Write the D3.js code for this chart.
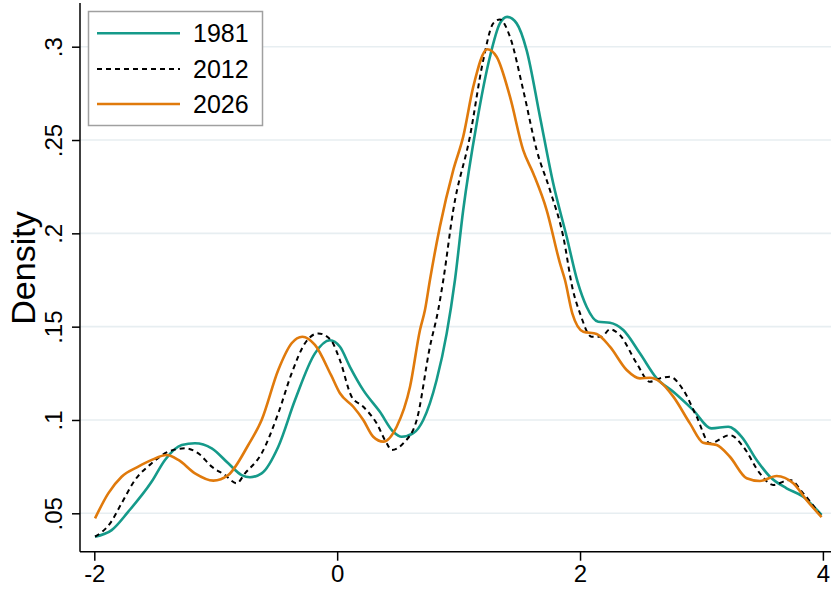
<!DOCTYPE html>
<html>
<head>
<meta charset="utf-8">
<script src="https://cdn.jsdelivr.net/npm/d3@7/dist/d3.min.js"></script>
<style>
  html, body { margin: 0; padding: 0; background: #fff; }
  svg { display: block; font-family: "Liberation Sans", Arial, sans-serif; }
</style>
</head>
<body>
<svg id="chart" width="831" height="590"></svg>
<script>
// Kernel density estimates by year
const years = ["1981", "2012", "2026"];
const colors = ["#159a8a", "#000000", "#e07a0c"];

const x1981 = [-1.994, -1.857, -1.72, -1.527, -1.418, -1.28, -1.171, -1.033, -0.897, -0.787, -0.718, -0.622, -0.485, -0.347, -0.183, -0.059, 0.023, 0.105, 0.215, 0.352, 0.462, 0.531, 0.627, 0.709, 0.819, 0.902, 0.97, 1.038, 1.149, 1.258, 1.34, 1.4, 1.478, 1.56, 1.67, 1.779, 1.89, 1.98, 2.054, 2.15, 2.246, 2.356, 2.493, 2.631, 2.768, 2.932, 3.083, 3.22, 3.331, 3.454, 3.564, 3.701, 3.838, 3.989];
const d1981 = [0.0375, 0.041, 0.0509, 0.067, 0.0786, 0.0866, 0.0875, 0.0848, 0.0768, 0.0705, 0.0693, 0.0714, 0.0857, 0.1107, 0.1357, 0.1427, 0.1392, 0.1285, 0.116, 0.1044, 0.0937, 0.091, 0.0929, 0.1, 0.1214, 0.1464, 0.175, 0.2125, 0.2589, 0.2946, 0.3125, 0.316, 0.3125, 0.2982, 0.2625, 0.2268, 0.1982, 0.174, 0.1607, 0.1526, 0.1521, 0.1482, 0.1357, 0.1223, 0.1151, 0.1053, 0.0955, 0.0964, 0.091, 0.0786, 0.0696, 0.0634, 0.0589, 0.0491];

const x2012 = [-1.994, -1.87, -1.775, -1.665, -1.527, -1.39, -1.253, -1.143, -1.033, -0.924, -0.828, -0.759, -0.622, -0.485, -0.375, -0.265, -0.156, -0.052, 0.023, 0.119, 0.215, 0.325, 0.408, 0.449, 0.544, 0.655, 0.764, 0.832, 0.874, 0.956, 1.093, 1.203, 1.285, 1.34, 1.423, 1.532, 1.643, 1.752, 1.862, 1.94, 2.0, 2.095, 2.178, 2.246, 2.328, 2.466, 2.575, 2.658, 2.74, 2.85, 2.96, 3.07, 3.234, 3.344, 3.481, 3.59, 3.728, 3.838, 3.989];
const d2012 = [0.0375, 0.0446, 0.0554, 0.0678, 0.0768, 0.083, 0.0848, 0.0821, 0.075, 0.0705, 0.0661, 0.0714, 0.0821, 0.1036, 0.125, 0.1411, 0.1464, 0.1428, 0.132, 0.1125, 0.1071, 0.0982, 0.0875, 0.0839, 0.0875, 0.1, 0.1393, 0.1589, 0.175, 0.2125, 0.2518, 0.2928, 0.3125, 0.3146, 0.3053, 0.2768, 0.2446, 0.2232, 0.1982, 0.17, 0.1571, 0.1446, 0.1446, 0.1486, 0.1455, 0.1304, 0.1205, 0.1223, 0.1232, 0.1161, 0.1018, 0.0875, 0.0919, 0.0857, 0.0714, 0.0652, 0.0679, 0.0607, 0.0482];

const x2026 = [-1.994, -1.885, -1.775, -1.638, -1.527, -1.404, -1.308, -1.171, -1.02, -0.897, -0.732, -0.622, -0.485, -0.375, -0.287, -0.183, -0.05, 0.023, 0.133, 0.215, 0.297, 0.38, 0.49, 0.6, 0.682, 0.723, 0.764, 0.846, 0.956, 1.038, 1.121, 1.236, 1.313, 1.423, 1.532, 1.615, 1.725, 1.835, 1.876, 1.937, 2.027, 2.137, 2.246, 2.384, 2.493, 2.575, 2.658, 2.768, 2.905, 3.014, 3.125, 3.234, 3.372, 3.481, 3.619, 3.756, 3.866, 3.989];
const d2026 = [0.0473, 0.0607, 0.0696, 0.075, 0.0786, 0.0812, 0.0786, 0.0714, 0.0675, 0.0705, 0.0866, 0.1, 0.1268, 0.1411, 0.1446, 0.1402, 0.124, 0.1143, 0.1071, 0.1, 0.091, 0.0884, 0.0964, 0.1178, 0.1482, 0.1589, 0.175, 0.2036, 0.2339, 0.2518, 0.2786, 0.2986, 0.2946, 0.2732, 0.2446, 0.2321, 0.2125, 0.1839, 0.175, 0.157, 0.1473, 0.1461, 0.1393, 0.1268, 0.1223, 0.1226, 0.1205, 0.1125, 0.0982, 0.0878, 0.0866, 0.0803, 0.0688, 0.0673, 0.07, 0.0661, 0.0571, 0.0479];

const xTicks = [-2, 0, 2, 4];
const yTicks = [0.05, 0.1, 0.15, 0.2, 0.25, 0.3];
const yTickLabels = [".05", ".1", ".15", ".2", ".25", ".3"];

const seriesX = [x1981, x2012, x2026];
const seriesY = [d1981, d2012, d2026];

const svg = d3.select("#chart");

// plot region
const plotLeft = 80, plotRight = 831, plotTop = 3, plotBottom = 551.7;

const x = d3.scaleLinear().domain([-2, 4]).range([94.3, 822.9]);
const y = d3.scaleLinear().domain([0.05, 0.3]).range([513.3, 46.7]);

// horizontal grid lines
svg.append("g")
  .selectAll("line")
  .data(yTicks)
  .join("line")
  .attr("x1", plotLeft).attr("x2", plotRight)
  .attr("y1", d => y(d)).attr("y2", d => y(d))
  .attr("stroke", "#e7eef1")
  .attr("stroke-width", 1.6);

// density curves
const line = d3.line()
  .x(d => x(d[0]))
  .y(d => y(d[1]))
  .curve(d3.curveMonotoneX);

[0, 1, 2].forEach(i => {
  const pts = d3.zip(seriesX[i], seriesY[i]);
  svg.append("path")
    .datum(pts)
    .attr("d", line)
    .attr("fill", "none")
    .attr("stroke", colors[i])
    .attr("stroke-width", i === 1 ? 2 : 2.6)
    .attr("stroke-dasharray", i === 1 ? "5,4" : null)
    .attr("stroke-linejoin", "round");
});

// y axis
const yAxis = svg.append("g")
  .attr("transform", `translate(${plotLeft},0)`)
  .call(d3.axisLeft(y).tickValues(yTicks).tickSize(8).tickSizeOuter(0)
        .tickFormat((d, i) => yTickLabels[i]));
yAxis.select(".domain").remove();
yAxis.selectAll(".tick line").attr("stroke", "#000").attr("stroke-width", 1.5);
yAxis.selectAll(".tick text")
  .attr("x", null).attr("dy", null)
  .attr("transform", "translate(-18,0) rotate(-90)")
  .attr("text-anchor", "middle")
  .attr("fill", "#000")
  .style("font-size", "24px");
svg.append("line")
  .attr("x1", plotLeft).attr("x2", plotLeft)
  .attr("y1", plotTop).attr("y2", plotBottom)
  .attr("stroke", "#000").attr("stroke-width", 1.5);

// x axis
const xAxis = svg.append("g")
  .attr("transform", `translate(0,${plotBottom})`)
  .call(d3.axisBottom(x).tickValues(xTicks).tickSize(9).tickSizeOuter(0)
        .tickFormat(d => d3.format("d")(d).replace("−", "-")));
xAxis.select(".domain").remove();
xAxis.selectAll(".tick line").attr("stroke", "#000").attr("stroke-width", 1.5);
xAxis.selectAll(".tick text")
  .attr("y", 30).attr("dy", null)
  .attr("fill", "#000")
  .style("font-size", "24px");
svg.append("line")
  .attr("x1", plotLeft).attr("x2", plotRight)
  .attr("y1", plotBottom).attr("y2", plotBottom)
  .attr("stroke", "#000").attr("stroke-width", 1.5);

// y axis title
svg.append("text")
  .attr("transform", "translate(35,268) rotate(-90)")
  .attr("text-anchor", "middle")
  .style("font-size", "34px")
  .attr("fill", "#000")
  .text("Density");

// legend
const legend = svg.append("g");
legend.append("rect")
  .attr("x", 88.5).attr("y", 11.5)
  .attr("width", 174).attr("height", 114)
  .attr("fill", "#fff")
  .attr("stroke", "#a0a0a0")
  .attr("stroke-width", 1.5);
const rowY = [33.3, 69, 104];
years.forEach((yr, i) => {
  legend.append("line")
    .attr("x1", 97).attr("x2", 180)
    .attr("y1", rowY[i]).attr("y2", rowY[i])
    .attr("stroke", colors[i])
    .attr("stroke-width", i === 1 ? 2 : 2.6)
    .attr("stroke-dasharray", i === 1 ? "5,4" : null);
  legend.append("text")
    .attr("x", 193).attr("y", rowY[i] + 9)
    .style("font-size", "25px")
    .attr("fill", "#000")
    .text(yr);
});
</script>
</body>
</html>
